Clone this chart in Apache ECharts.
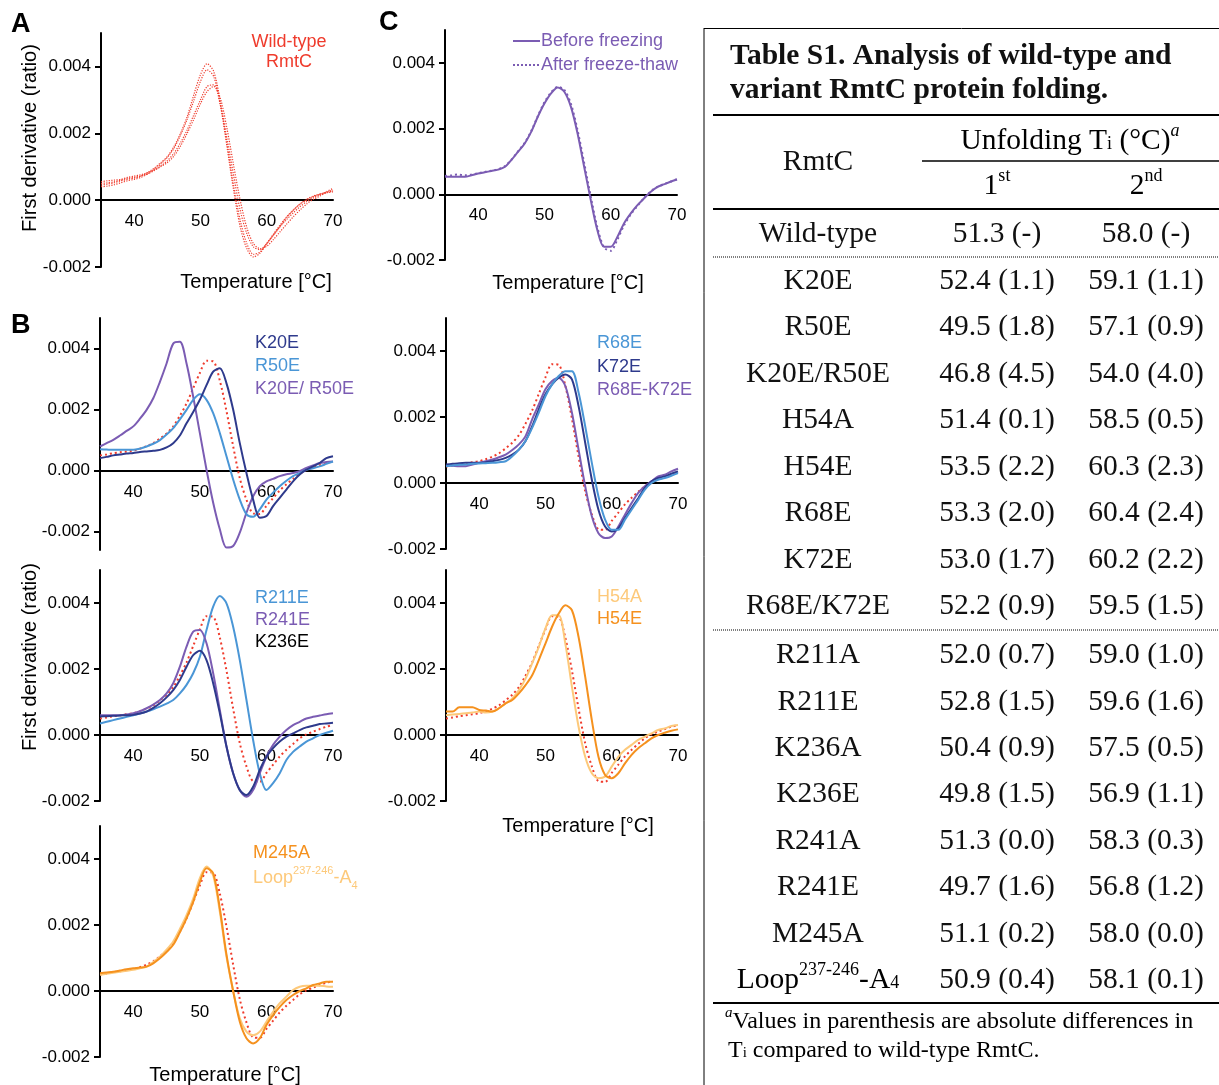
<!DOCTYPE html>
<html><head><meta charset="utf-8">
<script src="https://cdn.jsdelivr.net/npm/echarts@6/dist/echarts.min.js"></script>
<style>html,body{margin:0;padding:0;background:#fff}#main{width:1219px;height:1085px}</style>
</head><body><div id="main"></div>
<script>
// ---------- DATA (first derivative, units of 0.001 ratio) ----------
const temps = [35,36,37,38,39,40,41,42,43,44,45,46,47,48,49,50,51,52,53,54,55,56,57,58,59,60,61,62,63,64,65,66,67,68,69,70];
const yTicks = [-2,0,2,4];
const xTicks = [40,50,60,70];

const wtRef   = [0.50,0.53,0.57,0.60,0.63,0.66,0.72,0.80,0.90,1.05,1.22,1.45,1.80,2.20,2.70,3.20,3.60,3.58,2.95,1.95,0.80,-0.25,-0.95,-1.40,-1.42,-1.15,-0.90,-0.65,-0.45,-0.27,-0.10,0.02,0.10,0.18,0.25,0.30];
const wtRep1  = [0.45,0.48,0.52,0.58,0.62,0.66,0.72,0.82,0.95,1.12,1.30,1.60,2.00,2.50,3.15,3.75,4.08,3.85,2.95,1.70,0.45,-0.60,-1.30,-1.62,-1.55,-1.30,-1.05,-0.80,-0.58,-0.38,-0.20,-0.05,0.07,0.15,0.22,0.28];
const wtRep2  = [0.55,0.58,0.60,0.62,0.68,0.72,0.76,0.82,0.90,1.02,1.18,1.40,1.72,2.10,2.55,3.00,3.40,3.45,2.85,1.85,0.75,-0.30,-1.00,-1.40,-1.48,-1.30,-1.05,-0.78,-0.52,-0.30,-0.12,0.00,0.10,0.18,0.24,0.30];
const wtRep3  = [0.50,0.52,0.55,0.60,0.65,0.68,0.72,0.78,0.88,1.00,1.12,1.32,1.62,2.00,2.42,2.88,3.25,3.40,3.05,2.15,1.05,0.00,-0.82,-1.30,-1.45,-1.38,-1.18,-0.95,-0.72,-0.50,-0.30,-0.12,0.02,0.12,0.25,0.35];
const wtRep4  = [0.40,0.42,0.46,0.52,0.58,0.62,0.68,0.78,0.92,1.08,1.28,1.55,1.95,2.42,2.98,3.55,3.90,3.70,2.85,1.60,0.30,-0.80,-1.45,-1.70,-1.58,-1.30,-1.02,-0.75,-0.50,-0.30,-0.12,0.02,0.12,0.18,0.22,0.25];

const k20e    = [0.41,0.45,0.50,0.53,0.56,0.58,0.61,0.63,0.65,0.68,0.76,0.90,1.15,1.55,1.92,2.32,2.80,3.24,3.35,2.86,2.00,0.90,-0.08,-0.95,-1.54,-1.49,-1.16,-0.89,-0.62,-0.35,-0.13,0.03,0.14,0.25,0.41,0.47];
const r50e    = [0.70,0.69,0.68,0.68,0.68,0.68,0.72,0.79,0.88,1.00,1.18,1.39,1.68,1.99,2.32,2.50,2.32,1.88,1.23,0.47,-0.29,-0.95,-1.43,-1.51,-1.27,-0.95,-0.72,-0.51,-0.33,-0.18,-0.08,0.03,0.08,0.14,0.22,0.30];
const k20eR50e= [0.79,0.90,1.01,1.15,1.30,1.45,1.70,1.99,2.37,2.91,3.51,4.16,4.22,3.51,2.42,1.23,0.03,-1.05,-1.92,-2.52,-2.47,-2.03,-1.38,-0.84,-0.51,-0.35,-0.27,-0.18,-0.12,-0.08,-0.02,0.09,0.17,0.25,0.28,0.30];

const r211e   = [0.35,0.40,0.45,0.50,0.55,0.60,0.65,0.71,0.78,0.86,0.95,1.06,1.26,1.52,1.87,2.37,3.18,3.89,4.21,3.99,3.28,2.27,1.06,-0.15,-1.16,-1.67,-1.46,-1.16,-0.76,-0.51,-0.35,-0.20,-0.10,0.00,0.07,0.13];
const r241e   = [0.60,0.60,0.60,0.60,0.62,0.66,0.72,0.81,0.92,1.06,1.26,1.57,2.07,2.68,3.13,3.18,2.78,1.87,0.76,-0.35,-1.16,-1.67,-1.87,-1.67,-1.16,-0.66,-0.30,-0.05,0.15,0.30,0.40,0.50,0.55,0.59,0.63,0.66];
const k236e   = [0.56,0.57,0.58,0.59,0.60,0.61,0.65,0.71,0.82,0.96,1.14,1.36,1.67,2.07,2.42,2.55,2.27,1.57,0.66,-0.35,-1.16,-1.67,-1.82,-1.57,-1.06,-0.66,-0.40,-0.20,-0.05,0.05,0.15,0.23,0.28,0.33,0.35,0.37];

const m245a   = [0.54,0.56,0.58,0.62,0.66,0.69,0.71,0.74,0.84,0.99,1.18,1.40,1.78,2.20,2.70,3.30,3.72,3.57,2.50,1.10,0.00,-0.93,-1.43,-1.59,-1.43,-1.03,-0.73,-0.48,-0.27,-0.12,0.00,0.08,0.18,0.23,0.28,0.28];
const loopA4  = [0.49,0.52,0.55,0.58,0.61,0.64,0.69,0.74,0.88,1.04,1.25,1.50,1.88,2.30,2.80,3.42,3.77,3.50,2.40,1.04,0.00,-0.83,-1.23,-1.34,-1.23,-0.93,-0.63,-0.37,-0.17,0.03,0.13,0.16,0.16,0.16,0.14,0.13];

const beforeFreeze = [0.53,0.53,0.53,0.53,0.58,0.63,0.67,0.71,0.75,0.83,1.04,1.29,1.54,1.90,2.36,2.76,3.07,3.25,3.12,2.66,1.85,0.83,-0.18,-1.10,-1.60,-1.60,-1.30,-0.89,-0.59,-0.34,-0.13,0.07,0.22,0.30,0.38,0.45];
const afterThaw    = [0.56,0.58,0.60,0.58,0.60,0.64,0.68,0.72,0.76,0.85,1.05,1.30,1.56,1.92,2.38,2.80,3.10,3.27,3.18,2.75,1.95,0.95,-0.08,-1.02,-1.62,-1.72,-1.38,-0.95,-0.62,-0.36,-0.12,0.08,0.22,0.31,0.38,0.46];

const r68e    = [0.51,0.53,0.55,0.56,0.58,0.59,0.60,0.61,0.63,0.66,0.81,1.01,1.27,1.67,2.13,2.63,2.99,3.24,3.39,3.39,2.74,1.72,0.61,-0.41,-1.11,-1.42,-1.42,-1.11,-0.81,-0.51,-0.20,0.00,0.10,0.15,0.22,0.30];
const k72e    = [0.56,0.58,0.60,0.61,0.61,0.61,0.63,0.66,0.70,0.76,0.86,1.01,1.27,1.72,2.23,2.69,2.99,3.19,3.29,3.14,2.33,1.22,0.10,-0.81,-1.32,-1.47,-1.37,-1.06,-0.76,-0.46,-0.15,0.05,0.15,0.20,0.28,0.35];
const r68eK72e= [0.53,0.52,0.51,0.51,0.56,0.61,0.66,0.71,0.78,0.86,1.00,1.17,1.42,1.93,2.38,2.84,3.09,3.19,2.94,2.13,1.01,-0.10,-1.01,-1.52,-1.67,-1.62,-1.32,-0.96,-0.61,-0.30,-0.10,0.05,0.20,0.25,0.35,0.43];

const h54a    = [0.60,0.62,0.64,0.66,0.68,0.71,0.68,0.71,0.81,0.96,1.11,1.36,1.71,2.17,2.67,3.23,3.63,3.63,2.77,1.46,0.25,-0.66,-1.16,-1.31,-1.26,-0.96,-0.66,-0.45,-0.30,-0.15,-0.05,0.05,0.15,0.20,0.27,0.30];
const h54e    = [0.71,0.71,0.84,0.84,0.84,0.76,0.74,0.71,0.81,0.96,1.06,1.26,1.51,1.81,2.27,2.77,3.28,3.68,3.93,3.78,2.97,1.76,0.45,-0.66,-1.21,-1.31,-1.16,-0.86,-0.60,-0.40,-0.25,-0.10,0.00,0.07,0.13,0.17];

// ---------- TABLE DATA ----------
const rowNames = ['Wild-type','K20E','R50E','K20E/R50E','H54A','H54E','R68E','K72E','R68E/K72E','R211A','R211E','K236A','K236E','R241A','R241E','M245A','LOOP'];
const ti1   = [51.3,52.4,49.5,46.8,51.4,53.5,53.3,53.0,52.2,52.0,52.8,50.4,49.8,51.3,49.7,51.1,50.9];
const diff1 = [null,1.1,1.8,4.5,0.1,2.2,2.0,1.7,0.9,0.7,1.5,0.9,1.5,0.0,1.6,0.2,0.4];
const ti2   = [58.0,59.1,57.1,54.0,58.5,60.3,60.4,60.2,59.5,59.0,59.6,57.5,56.9,58.3,56.8,58.0,58.1];
const diff2 = [null,1.1,0.9,4.0,0.5,2.3,2.4,2.2,1.5,1.0,1.6,0.5,1.1,0.3,1.2,0.0,0.1];

// ---------- COLORS ----------
const RED='#ef3b2c', NAVY='#2e3a8c', LBLUE='#4a96d6', PURPLE='#7b5cb3', ORANGE='#f5911e', LORANGE='#fdc97a';

// ---------- LAYOUT ----------
const panels = [
  {left:101, top:33,  w:232, h:234, ymin:-2},   // A
  {left:100, top:318, w:233, h:232, ymin:-2.6}, // B1
  {left:100, top:570, w:233, h:231, ymin:-2},   // B2
  {left:100, top:826, w:233, h:231, ymin:-2},   // B3
  {left:445, top:30,  w:232, h:230, ymin:-2},   // C1
  {left:446, top:318, w:232, h:231, ymin:-2},   // C2
  {left:446, top:570, w:232, h:231, ymin:-2}    // C3
];
const YMAX = 5;
const SANS = 'Liberation Sans, Arial, sans-serif';
const SERIF = 'Liberation Serif, Times New Roman, serif';

const grid = [], xAxis = [], yAxis = [];
panels.forEach((p, i) => {
  const zeroFromBottom = p.h * (0 - p.ymin) / (YMAX - p.ymin);
  grid.push({left:p.left, top:p.top, width:p.w, height:p.h, containLabel:false});
  xAxis.push({type:'value', gridIndex:i, min:35, max:70, position:'bottom', offset:-zeroFromBottom,
    axisLine:{show:true, onZero:false, lineStyle:{color:'#000', width:2}},
    axisTick:{show:false}, splitLine:{show:false},
    axisLabel:{customValues:xTicks, color:'#000', fontSize:17, fontFamily:SANS, margin:13}});
  yAxis.push({type:'value', gridIndex:i, min:p.ymin, max:YMAX,
    axisLine:{show:true, onZero:false, lineStyle:{color:'#000', width:2}},
    axisTick:{show:true, length:6, lineStyle:{color:'#000', width:2}, customValues:yTicks},
    splitLine:{show:false},
    axisLabel:{customValues:yTicks, color:'#000', fontSize:17, fontFamily:SANS, margin:10,
      formatter: v => (v/1000).toFixed(3)}});
});

const series = [];
function addLine(pi, arr, color, style) {
  let ls = {color, width:2, type:'solid'};
  if (style === 'dot') ls = {color, width:2, type:[2,3], cap:'butt'};
  if (style === 'fine') ls = {color, width:1.2, type:[1.2,1.4], cap:'butt'};
  series.push({type:'line', xAxisIndex:pi, yAxisIndex:pi, showSymbol:false, symbol:'none',
    smooth:0.3, animation:false, silent:true, lineStyle:ls,
    data: temps.map((t, k) => [t, arr[k]])});
}
// A
[wtRep1, wtRep2, wtRep3, wtRep4].forEach(a => addLine(0, a, RED, 'fine'));
// B1
addLine(1, wtRef, RED, 'dot'); addLine(1, k20eR50e, PURPLE); addLine(1, r50e, LBLUE); addLine(1, k20e, NAVY);
// B2
addLine(2, wtRef, RED, 'dot'); addLine(2, r211e, LBLUE); addLine(2, r241e, PURPLE); addLine(2, k236e, NAVY);
// B3
addLine(3, wtRef, RED, 'dot'); addLine(3, loopA4, LORANGE); addLine(3, m245a, ORANGE);
// C1
addLine(4, afterThaw, PURPLE, 'dot'); addLine(4, beforeFreeze, PURPLE);
// C2
addLine(5, wtRef, RED, 'dot'); addLine(5, r68eK72e, PURPLE); addLine(5, k72e, NAVY); addLine(5, r68e, LBLUE);
// C3
addLine(6, wtRef, RED, 'dot'); addLine(6, h54a, LORANGE); addLine(6, h54e, ORANGE);

// ---------- GRAPHIC (texts, legends, table) ----------
const g = [];
function txt(x, y, text, o) {
  o = o || {};
  const st = {text, fontSize:o.size||18, fontFamily:o.family||SANS, fontWeight:o.weight||'normal',
    fill:o.color||'#000', align:o.align||'left', verticalAlign:'middle',
    textAlign:o.align||'left', textVerticalAlign:'middle'};
  if (o.rich) st.rich = o.rich;
  g.push({type:'text', x, y, rotation:o.rot||0, silent:true, z:10, style:st});
}
function hline(x1, x2, y, w, dash, color) {
  g.push({type:'line', silent:true, z:10, shape:{x1, y1:y, x2, y2:y},
    style:{stroke:color||'#000', lineWidth:w, lineDash:dash||null}});
}
function vline(x, y1, y2, w) {
  g.push({type:'line', silent:true, z:10, shape:{x1:x, y1, x2:x, y2}, style:{stroke:'#000', lineWidth:w}});
}

// panel letters
txt(11, 25, 'A', {size:27, weight:'bold'});
txt(11, 326, 'B', {size:27, weight:'bold'});
txt(379, 23, 'C', {size:27, weight:'bold'});

// axis titles
txt(30, 138, 'First derivative (ratio)', {size:20, align:'center', rot:Math.PI/2});
txt(30, 657, 'First derivative (ratio)', {size:20, align:'center', rot:Math.PI/2});
txt(256, 282, 'Temperature [°C]', {size:20, align:'center'});
txt(568, 283, 'Temperature [°C]', {size:20, align:'center'});
txt(578, 826, 'Temperature [°C]', {size:20, align:'center'});
txt(225, 1075, 'Temperature [°C]', {size:20, align:'center'});

// legends
txt(289, 42, 'Wild-type', {color:RED, align:'center'});
txt(289, 62, 'RmtC', {color:RED, align:'center'});
txt(255, 343, 'K20E', {color:NAVY});
txt(255, 366, 'R50E', {color:LBLUE});
txt(255, 389, 'K20E/ R50E', {color:PURPLE});
txt(255, 598, 'R211E', {color:LBLUE});
txt(255, 620, 'R241E', {color:PURPLE});
txt(255, 642, 'K236E', {color:'#000'});
txt(253, 853, 'M245A', {color:ORANGE});
txt(253, 876, '{m|Loop}{s|237-246}{m|-A}{b|4}', {color:LORANGE, rich:{
  m:{fontSize:18, fontFamily:SANS, color:LORANGE, lineHeight:22, verticalAlign:'bottom'},
  s:{fontSize:11, fontFamily:SANS, color:LORANGE, lineHeight:22, verticalAlign:'top'},
  b:{fontSize:11, fontFamily:SANS, color:LORANGE, lineHeight:22, verticalAlign:'bottom', padding:[0,0,-4,0]}}});
g.push({type:'line', silent:true, z:10, shape:{x1:513, y1:41, x2:540, y2:41}, style:{stroke:PURPLE, lineWidth:2}});
g.push({type:'line', silent:true, z:10, shape:{x1:513, y1:65, x2:540, y2:65}, style:{stroke:PURPLE, lineWidth:2, lineDash:[2,2]}});
txt(541, 41, 'Before freezing', {color:PURPLE, size:18});
txt(541, 65, 'After freeze-thaw', {color:PURPLE, size:18});
txt(597, 343, 'R68E', {color:LBLUE});
txt(597, 367, 'K72E', {color:NAVY});
txt(597, 390, 'R68E-K72E', {color:PURPLE});
txt(597, 597, 'H54A', {color:LORANGE});
txt(597, 619, 'H54E', {color:ORANGE});

// table frame & rules
vline(704, 28, 1085, 1);
hline(704, 1219, 28.5, 1);
hline(713, 1219, 115, 2.2);
hline(922, 1219, 161, 1.6);
hline(713, 1219, 209, 2.2);
hline(713, 1219, 257, 1, [1,1]);
hline(713, 1219, 630, 1, [1,1]);
hline(713, 1219, 1003, 2.2);

const TC = '#111';
// table title
txt(730, 56, 'Table S1. Analysis of wild-type and', {size:29.5, weight:'bold', family:SERIF, color:TC});
txt(730, 90, 'variant RmtC protein folding.', {size:29.5, weight:'bold', family:SERIF, color:TC});

// header
const serifRich = (sz) => ({
  t:{fontSize:sz, fontFamily:SERIF, color:TC, lineHeight:34, verticalAlign:'bottom'},
  i:{fontSize:Math.round(sz*0.62), fontFamily:SERIF, color:TC, lineHeight:34, verticalAlign:'bottom', padding:[0,0,3,0]},
  s:{fontSize:Math.round(sz*0.62), fontFamily:SERIF, color:TC, lineHeight:34, verticalAlign:'top'},
  a:{fontSize:Math.round(sz*0.62), fontFamily:SERIF, fontStyle:'italic', color:TC, lineHeight:34, verticalAlign:'top'}
});
const FS = 29.5;
txt(1070, 139, '{t|Unfolding T}{i|i}{t| (°C)}{a|a}', {align:'center', rich:serifRich(FS)});
txt(818, 162, 'RmtC', {size:FS, family:SERIF, align:'center', color:TC});
txt(997, 184, '{t|1}{s|st}', {align:'center', rich:serifRich(FS)});
txt(1146, 184, '{t|2}{s|nd}', {align:'center', rich:serifRich(FS)});

// rows
const fmt = (v, d) => v.toFixed(1) + (d === null ? ' (-)' : ' (' + d.toFixed(1) + ')');
rowNames.forEach((nm, k) => {
  const y = k === 0 ? 234 : (k <= 8 ? 281 + (k-1)*46.5 : 655.5 + (k-9)*46.4);
  if (nm === 'LOOP') {
    txt(818, y - 2, '{t|Loop}{s|237-246}{t|-A}{i|4}', {align:'center', rich:serifRich(FS)});
  } else {
    txt(818, y, nm, {size:FS, family:SERIF, align:'center', color:TC});
  }
  txt(997, y, fmt(ti1[k], diff1[k]), {size:FS, family:SERIF, align:'center', color:TC});
  txt(1146, y, fmt(ti2[k], diff2[k]), {size:FS, family:SERIF, align:'center', color:TC});
});

// footnote
const footRich = {
  t:{fontSize:24, fontFamily:SERIF, color:TC, lineHeight:28, verticalAlign:'bottom'},
  a:{fontSize:15, fontFamily:SERIF, fontStyle:'italic', color:TC, lineHeight:28, verticalAlign:'top'},
  i:{fontSize:15, fontFamily:SERIF, color:TC, lineHeight:28, verticalAlign:'bottom', padding:[0,0,2,0]}
};
txt(725, 1020, '{a|a}{t|Values in parenthesis are absolute differences in}', {rich:footRich});
txt(728, 1049, '{t|T}{i|i}{t| compared to wild-type RmtC.}', {rich:footRich});

const chart = echarts.init(document.getElementById('main'), null, {renderer:'canvas'});
chart.setOption({backgroundColor:'#fff', animation:false, grid, xAxis, yAxis, series, graphic:{elements:g}});
</script>
</body></html>
